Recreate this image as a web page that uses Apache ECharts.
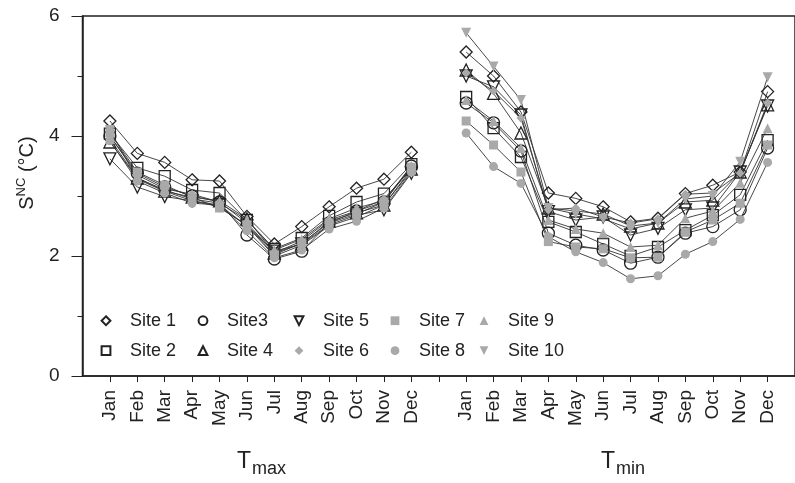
<!DOCTYPE html>
<html>
<head>
<meta charset="utf-8">
<script src="https://cdn.jsdelivr.net/npm/echarts@6/dist/echarts.min.js"></script>
<style>
html, body { margin: 0; padding: 0; background: #fff; }
#chart { width: 795px; height: 483px; }
</style>
</head>
<body>
<div id="chart"></div>
<script>
// month labels, x axis = Tmax Jan..Dec, blank slot, Tmin Jan..Dec
var months = ['Jan', 'Feb', 'Mar', 'Apr', 'May', 'Jun', 'Jul', 'Aug', 'Sep', 'Oct', 'Nov', 'Dec'];
var siteNames = ['Site 1', 'Site 2', 'Site3', 'Site 4', 'Site 5', 'Site 6', 'Site 7', 'Site 8', 'Site 9', 'Site 10'];
var yTicks = [0, 2, 4, 6];

// S_NC for Tmax
var tmaxS1  = [4.25, 3.71, 3.56, 3.27, 3.25, 2.66, 2.20, 2.49, 2.82, 3.13, 3.28, 3.73];
var tmaxS2  = [4.04, 3.47, 3.33, 3.10, 3.05, 2.60, 2.12, 2.30, 2.67, 2.90, 3.04, 3.53];
var tmaxS3  = [4.00, 3.38, 3.15, 3.00, 2.90, 2.35, 1.95, 2.08, 2.55, 2.75, 2.90, 3.50];
var tmaxS4  = [3.90, 3.30, 3.08, 2.98, 2.92, 2.62, 2.05, 2.20, 2.58, 2.72, 2.85, 3.45];
var tmaxS5  = [3.62, 3.15, 2.99, 2.92, 2.85, 2.50, 2.08, 2.20, 2.52, 2.68, 2.77, 3.38];
var tmaxS6  = [4.00, 3.35, 3.12, 3.03, 2.90, 2.55, 2.05, 2.25, 2.60, 2.75, 2.95, 3.45];
var tmaxS7  = [4.05, 3.40, 3.18, 2.98, 2.80, 2.52, 2.02, 2.22, 2.55, 2.70, 2.90, 3.48];
var tmaxS8  = [3.92, 3.25, 3.05, 2.88, 2.85, 2.42, 1.97, 2.10, 2.45, 2.58, 2.80, 3.40];
var tmaxS9  = [3.95, 3.30, 3.10, 2.95, 2.88, 2.60, 2.10, 2.28, 2.62, 2.80, 2.92, 3.50];
var tmaxS10 = [4.10, 3.28, 3.08, 2.92, 2.82, 2.50, 2.00, 2.18, 2.50, 2.65, 2.85, 3.42];

// S_NC for Tmin
var tminS1  = [5.40, 5.00, 4.40, 3.05, 2.96, 2.82, 2.57, 2.63, 3.04, 3.18, 3.40, 4.74];
var tminS2  = [4.65, 4.13, 3.65, 2.57, 2.40, 2.20, 2.00, 2.15, 2.43, 2.68, 3.02, 3.93];
var tminS3  = [4.55, 4.22, 3.75, 2.38, 2.18, 2.10, 1.88, 1.98, 2.38, 2.49, 2.77, 3.80];
var tminS4  = [5.10, 4.71, 4.05, 2.80, 2.75, 2.70, 2.50, 2.55, 2.90, 2.93, 3.40, 4.52];
var tminS5  = [5.00, 4.82, 4.35, 2.74, 2.60, 2.65, 2.35, 2.46, 2.77, 2.80, 3.40, 4.50];
var tminS6  = [5.05, 4.75, 4.30, 2.77, 2.80, 2.65, 2.55, 2.62, 3.03, 3.05, 3.38, 4.55];
var tminS7  = [4.25, 3.85, 3.40, 2.24, 2.15, 2.12, 1.97, 1.98, 2.40, 2.60, 2.88, 3.85];
var tminS8  = [4.05, 3.49, 3.21, 2.32, 2.07, 1.89, 1.62, 1.67, 2.03, 2.24, 2.61, 3.56];
var tminS9  = [4.60, 4.25, 3.80, 2.60, 2.45, 2.38, 2.15, 2.18, 2.63, 2.75, 3.22, 4.13];
var tminS10 = [5.72, 5.16, 4.60, 2.80, 2.70, 2.62, 2.45, 2.55, 2.95, 3.00, 3.57, 4.98];

var tmaxAll = [tmaxS1, tmaxS2, tmaxS3, tmaxS4, tmaxS5, tmaxS6, tmaxS7, tmaxS8, tmaxS9, tmaxS10];
var tminAll = [tminS1, tminS2, tminS3, tminS4, tminS5, tminS6, tminS7, tminS8, tminS9, tminS10];

var FONT = '"Liberation Sans", Arial, sans-serif';
var GRAY = '#a9a9a9';
var INK = '#222';
var downTri = 'path://M0,0L10,0L5,9Z';

// marker look per site (open black / filled gray)
var markers = [
  { symbol: 'diamond', size: 12, open: true },
  { symbol: 'rect', size: 11, open: true },
  { symbol: 'circle', size: 12, open: true },
  { symbol: 'triangle', size: 12, open: true },
  { symbol: downTri, size: 12, open: true },
  { symbol: 'diamond', size: 9, open: false },
  { symbol: 'rect', size: 9, open: false },
  { symbol: 'circle', size: 9, open: false },
  { symbol: 'triangle', size: 10, open: false },
  { symbol: downTri, size: 10, open: false }
];

var xCats = [''].concat(months, [''], months, ['']);

var series = siteNames.map(function (name, i) {
  var m = markers[i];
  return {
    name: name,
    type: 'line',
    data: [null].concat(tmaxAll[i], [null], tminAll[i], [null]),
    symbol: m.symbol,
    symbolSize: m.size,
    showAllSymbol: true,
    lineStyle: { color: '#333', width: 0.9 },
    itemStyle: m.open
      ? { color: 'rgba(255,255,255,0)', borderColor: INK, borderWidth: 1.3 }
      : { color: GRAY, borderColor: GRAY, borderWidth: 0 },
    emphasis: { disabled: true },
    z: m.open ? 2 : 3
  };
});

var legendCols = [
  ['Site 1', 'Site 2'], ['Site3', 'Site 4'], ['Site 5', 'Site 6'],
  ['Site 7', 'Site 8'], ['Site 9', 'Site 10']
];
var legendLeft = [87, 184, 280, 376, 465];
var legends = legendCols.map(function (col, k) {
  return {
    data: col,
    orient: 'vertical',
    left: legendLeft[k],
    top: 311.7,
    padding: 0,
    itemWidth: 38,
    itemHeight: 11,
    itemGap: 12,
    selectedMode: false,
    lineStyle: { width: 0, opacity: 0 },
    textStyle: { fontFamily: FONT, fontSize: 18, color: INK, lineHeight: 18 }
  };
});

var chart = echarts.init(document.getElementById('chart'));
chart.setOption({
  animation: false,
  backgroundColor: '#fff',
  grid: {
    left: 82.5, right: -6, top: 16, bottom: 107,
    show: true, borderColor: INK, borderWidth: 1.5, backgroundColor: 'transparent'
  },
  legend: legends,
  xAxis: {
    type: 'category',
    data: xCats,
    boundaryGap: false,
    axisLine: { lineStyle: { color: INK, width: 1.5 } },
    axisTick: {
      length: 6,
      lineStyle: { color: INK, width: 1 },
      interval: function (idx) { return idx > 0 && idx < xCats.length - 1; }
    },
    axisLabel: {
      rotate: 90, interval: 0, margin: 14,
      fontFamily: FONT, fontSize: 19, color: INK
    },
    splitLine: { show: false }
  },
  yAxis: {
    type: 'value',
    min: yTicks[0], max: yTicks[yTicks.length - 1], interval: 2,
    axisLine: { show: true, lineStyle: { color: INK, width: 1.5 } },
    axisTick: { show: true, length: 11, lineStyle: { color: INK, width: 1 } },
    minorTick: { show: true, splitNumber: 2, length: 5, lineStyle: { color: INK, width: 1 } },
    axisLabel: { margin: 23, fontFamily: FONT, fontSize: 19, color: INK },
    splitLine: { show: false },
    minorSplitLine: { show: false }
  },
  graphic: [
    {
      type: 'text', x: 26, y: 173, rotation: Math.PI / 2,
      style: {
        text: '{s|S}{sup|NC}{r| (°C)}',
        align: 'center', verticalAlign: 'middle',
        rich: {
          s: { fontFamily: FONT, fontSize: 20, lineHeight: 22, verticalAlign: 'bottom', fill: INK },
          sup: { fontFamily: FONT, fontSize: 13, lineHeight: 13, verticalAlign: 'top', fill: INK },
          r: { fontFamily: FONT, fontSize: 20, lineHeight: 22, verticalAlign: 'bottom', fill: INK }
        }
      }
    },
    { type: 'text', x: 251, y: 462, style: { text: 'T', fontFamily: FONT, fontSize: 23, fill: INK, align: 'right', verticalAlign: 'middle' } },
    { type: 'text', x: 252, y: 469, style: { text: 'max', fontFamily: FONT, fontSize: 18, fill: INK, align: 'left', verticalAlign: 'middle' } },
    { type: 'text', x: 615, y: 462, style: { text: 'T', fontFamily: FONT, fontSize: 23, fill: INK, align: 'right', verticalAlign: 'middle' } },
    { type: 'text', x: 616, y: 469, style: { text: 'min', fontFamily: FONT, fontSize: 18, fill: INK, align: 'left', verticalAlign: 'middle' } }
  ],
  series: series
});
</script>
</body>
</html>
